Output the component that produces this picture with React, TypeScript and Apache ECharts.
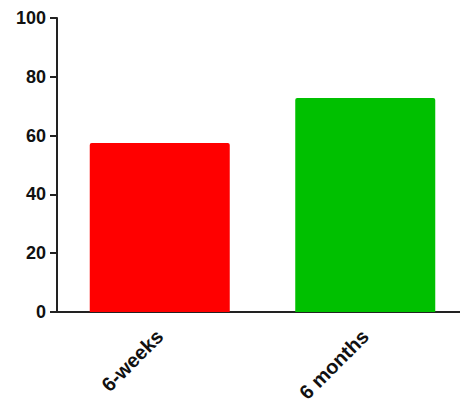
import React, { useEffect, useRef } from "react";
import * as echarts from "echarts";

const categories = ["6-weeks", "6 months"];
const values = [57.5, 72.8];
const barColors = ["#FF0000", "#00C000"];
const yTicks = [0, 20, 40, 60, 80, 100];

export default function App() {
  const ref = useRef<HTMLDivElement>(null);
  useEffect(() => {
    const chart = echarts.init(ref.current!, null, { renderer: "svg" });
    const font = { fontFamily: "Liberation Sans, Arial, sans-serif", fontWeight: "bold" as const, fontSize: 18, color: "#111" };
    chart.setOption({
      animation: false,
      backgroundColor: "#fff",
      grid: { left: 57, right: 0, top: 18, bottom: 96, containLabel: false },
      xAxis: {
        type: "category",
        data: categories,
        axisLine: { lineStyle: { color: "#222", width: 2 } },
        axisTick: { alignWithLabel: true, length: 6, lineStyle: { color: "#222", width: 2 } },
        axisLabel: { ...font, fontSize: 20, rotate: 45, margin: 21 },
      },
      yAxis: {
        type: "value",
        min: yTicks[0],
        max: yTicks[yTicks.length - 1],
        interval: 20,
        splitLine: { show: false },
        axisLine: { show: true, lineStyle: { color: "#222", width: 2 } },
        axisTick: { show: true, length: 7, lineStyle: { color: "#222", width: 2 } },
        axisLabel: { ...font, margin: 11 },
      },
      series: [
        {
          type: "bar",
          barWidth: 140,
          data: values.map((v, i) => ({ value: v, itemStyle: { color: barColors[i], borderRadius: [2, 2, 0, 0] } })),
        },
      ],
    });
    return () => chart.dispose();
  }, []);
  return (
    <div style={{ width: 460, height: 408, position: "absolute", left: 0, top: 0, overflow: "hidden" }}>
      <div ref={ref} style={{ width: 468, height: 408 }} />
    </div>
  );
}
